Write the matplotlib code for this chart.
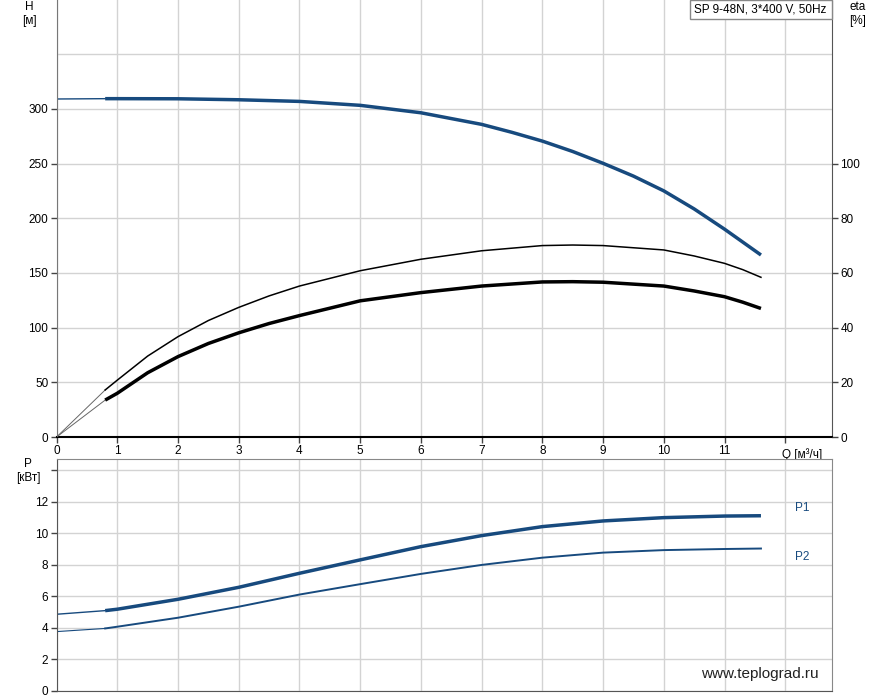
import matplotlib
matplotlib.use("Agg")
import matplotlib.pyplot as plt
from matplotlib.patches import Rectangle

plt.rcParams['font.family'] = ['Liberation Sans', 'DejaVu Sans']

# ---- data ----
q_h = [0.0, 0.8, 1, 2, 3, 4, 5, 6, 7, 7.5, 8, 8.5, 9, 9.5, 10, 10.5, 11, 11.6]
head = [309, 309.3, 309.3, 309.2, 308.3, 306.8, 303.2, 296.4, 285.8, 278.5, 270.5, 261,
        250.2, 238.5, 225, 208.5, 190, 166.4]

q_eta = [0.8, 1, 1.5, 2, 2.5, 3, 3.5, 4, 5, 6, 7, 8, 8.5, 9, 10, 10.5, 11, 11.3, 11.6]
eta_upper = [17.2, 20.8, 29.6, 36.7, 42.6, 47.4, 51.6, 55.2, 60.8, 65.0, 68.1, 70.0, 70.2,
             70.0, 68.4, 66.2, 63.5, 61.2, 58.4]
eta_lower = [13.5, 16.0, 23.5, 29.4, 34.2, 38.1, 41.5, 44.4, 49.8, 52.8, 55.2, 56.7, 56.8,
             56.6, 55.2, 53.4, 51.3, 49.3, 47.0]

q_p = [0.0, 0.8, 1, 2, 3, 4, 5, 6, 7, 8, 9, 10, 11, 11.6]
p1 = [4.85, 5.08, 5.17, 5.8, 6.56, 7.45, 8.3, 9.14, 9.84, 10.41, 10.77, 10.98, 11.08, 11.1]
p2 = [3.75, 3.95, 4.06, 4.63, 5.33, 6.1, 6.76, 7.41, 7.98, 8.44, 8.76, 8.92, 8.99, 9.02]

x_ticks = list(range(0, 12))
h_ticks = [0, 50, 100, 150, 200, 250, 300]
eta_ticks = [0, 20, 40, 60, 80, 100]
p_ticks = [0, 2, 4, 6, 8, 10, 12]
title_text = "SP 9-48N, 3*400 V, 50Hz"

BLUE = '#174a7e'
GRID = '#d3d3d3'
FS = 8.5

W, H = 887, 700
fig = plt.figure(figsize=(W / 100, H / 100), dpi=100)

x0, x1 = 56.6, 832
ax = fig.add_axes([x0 / W, 1 - 437 / H, (x1 - x0) / W, 437 / H])
xmax = 12.77
ax.set_xlim(0, xmax)
ax.set_ylim(0, 399.5)
ax.set_xticks(x_ticks + [12])
ax.set_xticklabels([str(t) for t in x_ticks] + [''])
ax.set_yticks(h_ticks)
ax.set_yticks([350], minor=True)
ax.grid(True, which='both', color=GRID, lw=1)
ax.tick_params(which='minor', length=0)
ax.set_axisbelow(True)
ax.tick_params(labelsize=FS, length=4, width=1, color='#444444', pad=2)
ax.spines['top'].set_visible(False)
ax.spines['left'].set_color('#777777')
ax.spines['bottom'].set_color('black')
ax.spines['bottom'].set_linewidth(1.5)
ax.spines['right'].set_color('#555555')
ax.spines['right'].set_linestyle((0, (1, 1)))

# head curve
ax.plot(q_h[:2], head[:2], color=BLUE, lw=1.0)
ax.plot(q_h[1:], head[1:], color=BLUE, lw=2.5, solid_capstyle='butt')

# efficiency on twin axis
ax2 = ax.twinx()
ax2.set_ylim(0, 399.5 * 0.4)
ax2.set_yticks(eta_ticks)
ax2.tick_params(labelsize=FS, length=4, width=1, color='#444444', pad=2)
for s in ax2.spines.values():
    s.set_visible(False)
ax2.plot([0, q_eta[0]], [0, eta_upper[0]], color='#666666', lw=0.7)
ax2.plot([0, q_eta[0]], [0, eta_lower[0]], color='#666666', lw=0.7)
ax2.plot(q_eta, eta_upper, color='black', lw=1.1)
ax2.plot(q_eta, eta_lower, color='black', lw=2.5, solid_capstyle='butt')

ax.text(11.95, -10, 'Q [м³/ч]', transform=ax.transData, fontsize=FS,
        ha='left', va='top')

fig.text(29 / W, 1 - 7 / H, 'H', fontsize=FS, ha='center', va='center')
fig.text(29 / W, 1 - 21 / H, '[м]', fontsize=FS, ha='center', va='center')
fig.text(858 / W, 1 - 7 / H, 'eta', fontsize=FS, ha='center', va='center')
fig.text(858 / W, 1 - 21 / H, '[%]', fontsize=FS, ha='center', va='center')

# title box
fig.patches.append(Rectangle((690 / W, 1 - 19 / H), (832 - 690) / W, 19 / H,
                             transform=fig.transFigure, facecolor='white',
                             edgecolor='#888888', lw=1, zorder=5))
fig.text(694 / W, 1 - 10 / H, title_text, fontsize=FS, ha='left', va='center', zorder=6)

# power panel
bx = fig.add_axes([x0 / W, 1 - 690.7 / H, (x1 - x0) / W, (690.7 - 459) / H])
bx.set_xlim(0, xmax)
bx.set_ylim(0, 14.7)
bx.set_xticks(x_ticks + [12])
bx.set_xticklabels([])
bx.tick_params(axis='x', length=0)
bx.set_yticks(p_ticks + [14])
bx.set_yticklabels([str(t) for t in p_ticks] + [''])
bx.tick_params(axis='y', labelsize=FS, length=4, width=1, color='#444444', pad=2)
bx.grid(True, color=GRID, lw=1)
bx.set_axisbelow(True)
for s in bx.spines.values():
    s.set_color('#888888')
bx.spines['left'].set_color('#555555')
bx.spines['bottom'].set_color('#555555')

bx.plot(q_p[:2], p1[:2], color=BLUE, lw=1.0)
bx.plot(q_p[1:], p1[1:], color=BLUE, lw=2.5, solid_capstyle='butt')
bx.plot(q_p[:2], p2[:2], color=BLUE, lw=0.8)
bx.plot(q_p[1:], p2[1:], color=BLUE, lw=1.4)

fig.text(802 / W, 1 - 508 / H, 'P1', fontsize=FS, color=BLUE, ha='center', va='center')
fig.text(802 / W, 1 - 557 / H, 'P2', fontsize=FS, color=BLUE, ha='center', va='center')

fig.text(28 / W, 1 - 464 / H, 'P', fontsize=FS, ha='center', va='center')
fig.text(28 / W, 1 - 478 / H, '[кВт]', fontsize=FS, ha='center', va='center')

fig.text(760 / W, 1 - 674 / H, 'www.teplograd.ru', fontsize=11, ha='center',
         va='center', color='#222222')

fig.savefig('out.png', dpi=100)
